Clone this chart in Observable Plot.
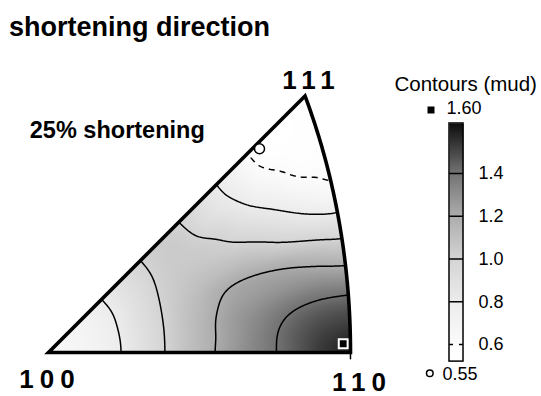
<!DOCTYPE html>
<html>
<head>
<meta charset="utf-8">
<script src="https://cdn.jsdelivr.net/npm/d3@7"></script>
<script src="https://cdn.jsdelivr.net/npm/@observablehq/plot@0.6"></script>
<style>
  body { margin: 0; background: #fff; }
  #wrap { position: relative; width: 541px; height: 396px; overflow: hidden;
          font-family: "Liberation Sans", Arial, Helvetica, sans-serif; background: #fff; }
  #title { position: absolute; left: 9px; top: 14px; font-size: 27px; font-weight: bold;
           line-height: 1; color: #000; white-space: nowrap; }
  #main, #bar { position: absolute; left: 0; top: 0; }
</style>
</head>
<body>
<div id="wrap">
  <div id="title">shortening direction</div>
  <div id="main"></div>
  <div id="bar"></div>
</div>
<script>
// ---------------- data ----------------
// sample grid: azimuth in the sector (deg) x fraction of the way from 100 to the 110-111 arc
const phiDeg = [0, 5, 10, 15, 20, 25, 30, 35, 40, 45];
const tFrac  = [0, 0.1, 0.2, 0.3, 0.4, 0.5, 0.6, 0.7, 0.8, 0.9, 1];
// mud values along each azimuth column (phi = 0 is the 100-110 edge, phi = 45 the 100-111 edge)
const mudPhi0  = [0.65, 0.675, 0.750, 0.880, 1.020, 1.143, 1.253, 1.350, 1.440, 1.530, 1.595];
const mudPhi5  = [0.65, 0.675, 0.752, 0.880, 1.020, 1.140, 1.245, 1.345, 1.435, 1.500, 1.530];
const mudPhi10 = [0.65, 0.676, 0.753, 0.880, 1.020, 1.140, 1.245, 1.320, 1.390, 1.425, 1.430];
const mudPhi15 = [0.65, 0.677, 0.755, 0.885, 1.020, 1.130, 1.225, 1.265, 1.290, 1.290, 1.250];
const mudPhi20 = [0.65, 0.678, 0.758, 0.890, 1.020, 1.115, 1.197, 1.215, 1.195, 1.130, 1.045];
const mudPhi25 = [0.65, 0.678, 0.760, 0.892, 1.020, 1.090, 1.115, 1.095, 1.010, 0.920, 0.835];
const mudPhi30 = [0.65, 0.679, 0.763, 0.895, 1.020, 1.065, 1.045, 0.975, 0.870, 0.740, 0.612];
const mudPhi35 = [0.65, 0.680, 0.770, 0.900, 1.020, 1.045, 0.995, 0.865, 0.735, 0.598, 0.572];
const mudPhi40 = [0.65, 0.682, 0.780, 0.915, 1.025, 1.035, 0.900, 0.780, 0.612, 0.562, 0.568];
const mudPhi45 = [0.65, 0.685, 0.790, 0.925, 1.035, 1.010, 0.880, 0.735, 0.570, 0.550, 0.575];

const contourLevels = [0.8, 1.0, 1.2, 1.4];
const dashedLevels = [0.6];
const colorbarTicks = [0.6, 0.8, 1.0, 1.2, 1.4];
const colorbarTickLabels = ["0.6", "0.8", "1.0", "1.2", "1.4"];
const minMud = 0.55, maxMud = 1.60;
const minPos = {phi: 44, t: 0.815};
const maxPos = {phi: 1.7, t: 0.976};
const vertexLabels = ["100", "110", "111"];
const panelLabel = "25% shortening";
const legendTitle = "Contours (mud)";
const grayDomain = [0.55, 0.6, 0.8, 1.0, 1.2, 1.4, 1.6];
const grayRange  = ["#ffffff", "#fbfbfb", "#ececec", "#d4d4d4", "#adadad", "#737373", "#1c1c1c"];

// ---------------- geometry (equal-area projection of the cubic sector) ----------------
const deg = Math.PI / 180;
function arcRadius(p) { const thb = Math.atan(1 / Math.cos(p)); return 2 * Math.sin(thb / 2); }
function proj(phiD, t) { const p = phiD * deg; const r = t * arcRadius(p); return [r * Math.cos(p), r * Math.sin(p)]; }

const columns = [mudPhi0, mudPhi5, mudPhi10, mudPhi15, mudPhi20, mudPhi25, mudPhi30, mudPhi35, mudPhi40, mudPhi45];
const samples = [];
phiDeg.forEach((ph, i) => tFrac.forEach((t, j) => {
  if (t === 0 && i > 0) return;
  const [x, y] = proj(ph, t);
  samples.push({x, y, v: columns[i][j]});
}));

// smooth (Catmull-Rom) rendering of the sampled field, used as the raster/contour interpolator
function cr(p0, p1, p2, p3, s) {
  return 0.5 * (2 * p1 + (-p0 + p2) * s + (2 * p0 - 5 * p1 + 4 * p2 - p3) * s * s + (-p0 + 3 * p1 - 3 * p2 + p3) * s * s * s);
}
function colAt(i) { const n = columns.length; if (i < 0) i = -i; if (i > n - 1) i = 2 * (n - 1) - i; return columns[i]; }
function valAt(c, j) {
  const n = c.length;
  if (j < 0) return c[-j];
  if (j > n - 1) return c[n - 1] + (j - (n - 1)) * (c[n - 1] - c[n - 2]);
  return c[j];
}
function fieldValue(ph, t) {
  const nP = phiDeg.length, nT = tFrac.length;
  const fp = Math.max(0, Math.min(nP - 1, ph / (phiDeg[1] - phiDeg[0])));
  const ft = Math.max(0, Math.min(nT - 1, t / (tFrac[1] - tFrac[0])));
  const ip = Math.min(nP - 2, Math.floor(fp)), it = Math.min(nT - 2, Math.floor(ft));
  const sp = fp - ip, st = ft - it;
  const v = [-1, 0, 1, 2].map(d => { const c = colAt(ip + d); return cr(valAt(c, it - 1), valAt(c, it), valAt(c, it + 1), valAt(c, it + 2), st); });
  return cr(v[0], v[1], v[2], v[3], sp);
}
function smoothInterp(index, width, height, X, Y) {
  const i0 = index[0];
  const ia = index.find(i => Math.abs(samples[i].x - samples[i0].x) > 0.1);
  const ib = index.find(i => Math.abs(samples[i].y - samples[i0].y) > 0.1);
  const ax = (X[ia] - X[i0]) / (samples[ia].x - samples[i0].x), bx = X[i0] - ax * samples[i0].x;
  const ay = (Y[ib] - Y[i0]) / (samples[ib].y - samples[i0].y), by = Y[i0] - ay * samples[i0].y;
  const out = new Float64Array(width * height);
  for (let j = 0; j < height; ++j) {
    for (let i = 0; i < width; ++i) {
      const px = (i + 0.5 - bx) / ax, py = (j + 0.5 - by) / ay;
      const ph = Math.max(0, Math.min(45, Math.atan2(py, px) / deg));
      const t = Math.max(0, Math.min(1, Math.hypot(px, py) / arcRadius(ph * deg)));
      out[j * width + i] = fieldValue(ph, t);
    }
  }
  return out;
}

const R110 = arcRadius(0);
const [X111, Y111] = proj(45, 1);
const arcPts = d3.range(0, 45.001, 0.5).map(ph => { const [x, y] = proj(ph, 1); return {x, y}; });
const arcTail = d3.range(-1.2, 0.001, 0.3).map(ph => { const [x, y] = proj(ph, 1); return {x, y}; });
const outline = [{x: R110 / 2, y: 0}, ...arcPts, {x: 0, y: 0}, {x: R110 / 2, y: 0}];
const maskTop = d3.range(0, 221).map(i => {
  const x = -0.03 + i * (R110 + 0.07) / 220;
  return {x, y1: Math.max(-0.02, Math.min(x, Y111)), y2: Y111 + 0.05};
});
const maskRight = [{y: -0.02, x1: R110, x2: R110 + 0.05}, ...arcPts.map(d => ({y: d.y, x1: d.x, x2: R110 + 0.05}))];

const [minX, minY] = proj(minPos.phi, minPos.t);
const [maxX, maxY] = proj(maxPos.phi, maxPos.t);

const k = 302 / R110; // px per projection unit
const colorOpts = {type: "linear", domain: grayDomain, range: grayRange};
const font = '"Liberation Sans", Arial, Helvetica, sans-serif';
const ext = {x1: 0, y1: 0, x2: R110, y2: Y111};

const main = Plot.plot({
  width: 541, height: 396, margin: 0,
  x: {domain: [-48 / k, (541 - 48) / k], range: [0, 541], axis: null},
  y: {domain: [-(396 - 352) / k, 352 / k], range: [396, 0], axis: null},
  color: colorOpts,
  style: {background: "transparent", fontFamily: font, color: "black"},
  marks: [
    Plot.raster(samples, {x: "x", y: "y", fill: "v", interpolate: smoothInterp, ...ext}),
    Plot.contour(samples, {x: "x", y: "y", value: "v", interpolate: smoothInterp, ...ext, pixelSize: 1, blur: 6,
      thresholds: contourLevels, stroke: "black", fill: "none", strokeWidth: 1.5}),
    Plot.contour(samples, {x: "x", y: "y", value: "v", interpolate: smoothInterp, ...ext, pixelSize: 1, blur: 6,
      thresholds: dashedLevels, stroke: "black", fill: "none", strokeWidth: 1.5, strokeDasharray: "6,5"}),
    Plot.areaY(maskTop, {x: "x", y1: "y1", y2: "y2", fill: "white"}),
    Plot.areaX(maskRight, {y: "y", x1: "x1", x2: "x2", fill: "white"}),
    Plot.line(arcTail, {x: "x", y: "y", stroke: "black", strokeWidth: 1.5}),
    Plot.line(outline, {x: "x", y: "y", stroke: "black", strokeWidth: 3.6, strokeLinejoin: "miter", strokeMiterlimit: 10}),
    Plot.dot([{x: minX, y: minY}], {x: "x", y: "y", r: 5, fill: "white", stroke: "black", strokeWidth: 1.5}),
    Plot.dot([{x: maxX, y: maxY}], {x: "x", y: "y", r: 5, symbol: "square", fill: "black", stroke: "white", strokeWidth: 2}),
    Plot.text([{x: 0, y: 0, s: vertexLabels[0]}], {x: "x", y: "y", text: "s", dx: 1.5, dy: 35,
      fontSize: 26, fontWeight: "bold", textAnchor: "middle", lineAnchor: "bottom"}),
    Plot.text([{x: R110, y: 0, s: vertexLabels[1]}], {x: "x", y: "y", text: "s", dx: 11.5, dy: 38,
      fontSize: 26, fontWeight: "bold", textAnchor: "middle", lineAnchor: "bottom"}),
    Plot.text([{x: X111, y: Y111, s: vertexLabels[2]}], {x: "x", y: "y", text: "s", dx: 6.5, dy: -7,
      fontSize: 26, fontWeight: "bold", textAnchor: "middle", lineAnchor: "bottom"}),
    Plot.text([panelLabel], {frameAnchor: "top-left", dx: 29.3, dy: 137, textAnchor: "start",
      lineAnchor: "bottom", fontSize: 23.5, fontWeight: "bold"})
  ]
});
d3.select(main).selectAll("text").filter(function() { return vertexLabels.includes(this.textContent); })
  .style("letter-spacing", "6px");
document.getElementById("main").appendChild(main);

const barLo = 0.52, barHi = 1.634;
const bar = Plot.plot({
  width: 541, height: 396, margin: 0,
  x: {domain: [0, 1], range: [449, 463], axis: null},
  y: {domain: [0.6, 1.4], range: [344, 173], axis: null},
  color: colorOpts,
  style: {background: "transparent", fontFamily: font, color: "black"},
  marks: [
    Plot.raster({fill: (x, y) => y, x1: 0, x2: 1, y1: barLo, y2: barHi}),
    Plot.ruleY(contourLevels, {x1: 0, x2: 1, stroke: "black", strokeWidth: 1.5}),
    Plot.ruleY(dashedLevels, {x1: 0, x2: 1, stroke: "black", strokeWidth: 1.5, strokeDasharray: "4,6"}),
    Plot.rect([0], {x1: 0, x2: 1, y1: barLo, y2: barHi, stroke: "black", fill: "none", strokeWidth: 1.5}),
    Plot.text(colorbarTicks, {x: 1, y: d => d, text: (d, i) => colorbarTickLabels[i], textAnchor: "start",
      dx: 15, fontSize: 18}),
    Plot.text([legendTitle], {frameAnchor: "top-left", dx: 394, dy: 90, textAnchor: "start",
      lineAnchor: "bottom", fontSize: 20.5}),
    Plot.text([maxMud], {frameAnchor: "top-left", dx: 446, dy: 113, text: d => d3.format(".2f")(d),
      textAnchor: "start", lineAnchor: "bottom", fontSize: 18}),
    Plot.text([minMud], {frameAnchor: "top-left", dx: 442, dy: 379, text: d => d3.format(".2f")(d),
      textAnchor: "start", lineAnchor: "bottom", fontSize: 18}),
    Plot.dot([maxMud], {frameAnchor: "top-left", dx: 430.5, dy: 109.5, symbol: "square", r: 3.95, fill: "black"}),
    Plot.dot([minMud], {frameAnchor: "top-left", dx: 429.3, dy: 372.7, r: 3.3, fill: "white", stroke: "black", strokeWidth: 1.5})
  ]
});
document.getElementById("bar").appendChild(bar);
</script>
</body>
</html>
